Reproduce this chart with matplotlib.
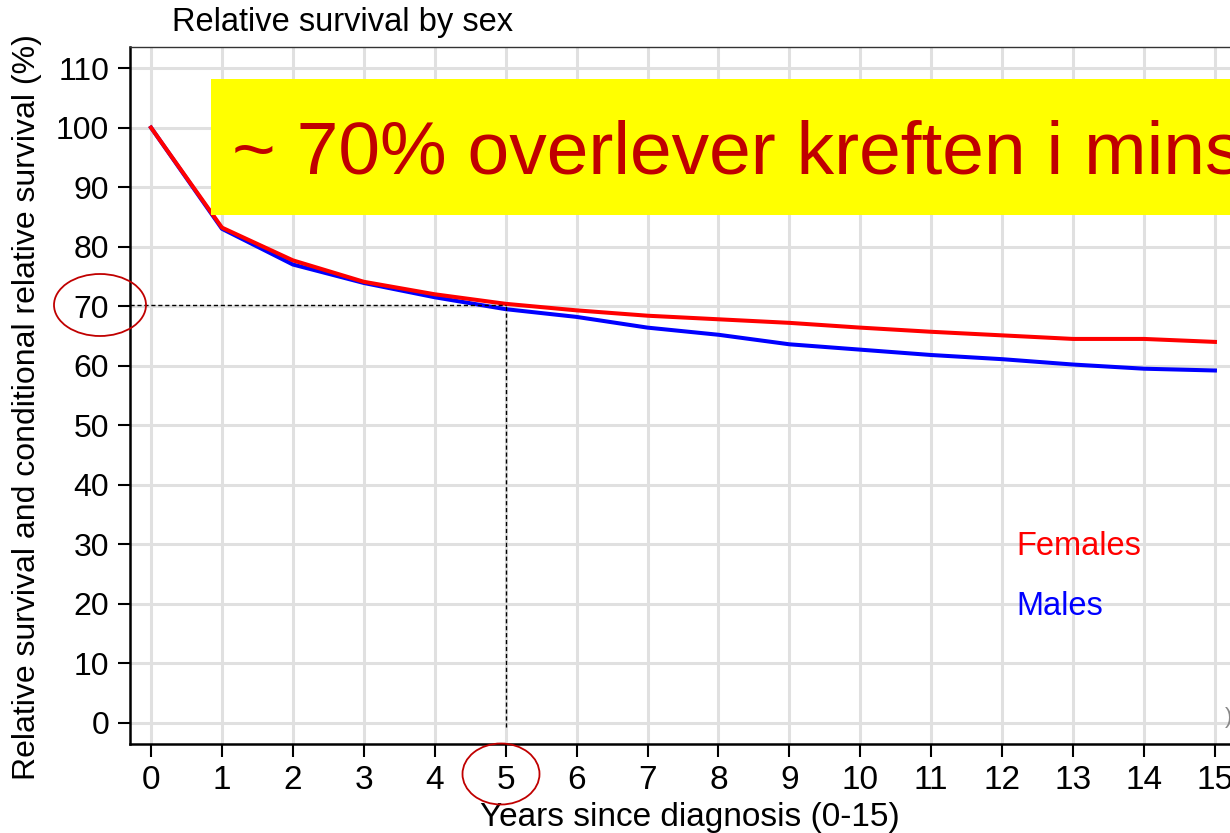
import matplotlib
matplotlib.use("Agg")
import matplotlib.pyplot as plt
from matplotlib.patches import Rectangle, Ellipse

plt.rcParams['font.family'] = ['Liberation Sans', 'DejaVu Sans']

years = list(range(16))
females = [100.0, 83.2, 77.7, 74.1, 72.0, 70.4, 69.3, 68.4, 67.8, 67.2, 66.4, 65.7, 65.1, 64.5, 64.5, 64.0]
males = [100.0, 83.0, 77.0, 73.9, 71.5, 69.5, 68.2, 66.4, 65.2, 63.6, 62.7, 61.8, 61.1, 60.2, 59.5, 59.2]
yticks = list(range(0, 111, 10))
title = "Relative survival by sex"
xlabel = "Years since diagnosis (0-15)"
ylabel = "Relative survival and conditional relative survival (%)"
banner = "~ 70% overlever kreften i minst 5 år"
ref_year = 5
ref_value = 70.2

fig = plt.figure(figsize=(12.3, 8.33), dpi=100)
ax = fig.add_axes([130/1230, 1-744/833, (1260-130)/1230, (744-47)/833])
ax.set_xlim(-0.296, 15.635)
ax.set_ylim(-3.53, 113.53)

ax.set_xticks(years)
ax.set_yticks(yticks)
ax.grid(True, color='#e0e0e0', linewidth=2.2, zorder=0)
ax.set_axisbelow(True)

ax.plot(years, males, color='#0000ff', linewidth=2.9, zorder=3)
ax.plot(years, females, color='#ff0000', linewidth=2.9, zorder=4)

# reference dashed lines
ax.plot([-0.3, ref_year], [ref_value, ref_value], color='black', linestyle=(0, (3, 2)), linewidth=1.0, zorder=5)
ax.plot([ref_year, ref_year], [-0.6, ref_value], color='black', linestyle=(0, (3, 2)), linewidth=1.0, zorder=5)

for s in ['left', 'bottom']:
    ax.spines[s].set_linewidth(1.8)
    ax.spines[s].set_color('black')
ax.spines['top'].set_linewidth(1.0)
ax.spines['top'].set_color('#333333')
ax.tick_params(axis='both', direction='out', length=9, width=1.5, colors='black')
ax.tick_params(axis='y', labelsize=23, pad=6)
ax.tick_params(axis='x', labelsize=24, pad=6)

ax.set_xlabel(xlabel, fontsize=24, va='top')
ax.xaxis.set_label_coords((690-130)/1130, -(802-744)/697)
ax.set_ylabel(ylabel, fontsize=23)
ax.yaxis.set_label_coords((42-130)/1130, (744-407)/697)

ax.text(12.2, 29.6, "Females", color='#ff0000', fontsize=23.5, ha='left', va='center')
ax.text(12.2, 19.6, "Males", color='#0000ff', fontsize=23.5, ha='left', va='center')

fig.text(172/1230, 1-22/833, title, fontsize=23.5, ha='left', va='center')

# yellow banner
fig.patches.append(Rectangle((211/1230, 1-215/833), 1.0, 136/833, transform=fig.transFigure,
                             facecolor='#ffff00', edgecolor='none', zorder=10))
fig.text(232/1230, 1-174/833, banner, fontsize=54, color='#c00000', ha='left', va='baseline', zorder=11)

# red ellipses
fig.patches.append(Ellipse((100/1230, 1-305/833), 92/1230, 62/833, transform=fig.transFigure,
                           facecolor='none', edgecolor='#c00000', linewidth=1.3, zorder=12))
fig.patches.append(Ellipse((501/1230, 1-774/833), 77/1230, 61/833, transform=fig.transFigure,
                           facecolor='none', edgecolor='#c00000', linewidth=1.3, zorder=12))

fig.text(1225/1230, 1-718/833, ")", fontsize=16, color='#888888', ha='left', va='center')

fig.savefig("out.png", dpi=100)
